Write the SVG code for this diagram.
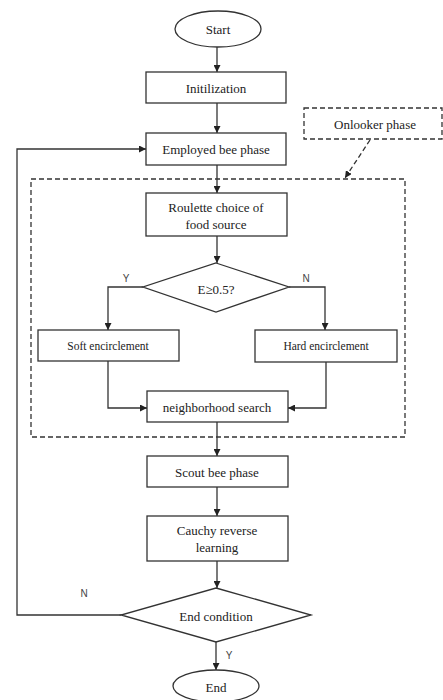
<svg xmlns="http://www.w3.org/2000/svg" width="443" height="700" viewBox="0 0 443 700">
<defs>
<marker id="ah" viewBox="0 0 10 10" refX="10" refY="5" markerWidth="7" markerHeight="7" markerUnits="userSpaceOnUse" orient="auto">
<path d="M0,0 L10,5 L0,10 z" fill="#222"/>
</marker>
</defs>
<style>
.n{fill:#fff;stroke:#333;stroke-width:1.3}
.t{font-family:"Liberation Serif",serif;font-size:13px;fill:#222;text-anchor:middle;dominant-baseline:central}
.ts{font-family:"Liberation Serif",serif;font-size:11.5px;fill:#222;text-anchor:middle;dominant-baseline:central}
.l{font-family:"Liberation Sans",sans-serif;font-size:10px;fill:#444;text-anchor:middle;dominant-baseline:central}
.c{fill:none;stroke:#333;stroke-width:1.3}
.d{fill:none;stroke:#333;stroke-width:1.3;stroke-dasharray:5,3}
</style>
<rect width="443" height="700" fill="#fff"/>
<g id="connectors">
<path class="c" d="M217,47 V72" marker-end="url(#ah)"/>
<path class="c" d="M217,103 V133" marker-end="url(#ah)"/>
<path class="c" d="M217,165 V193" marker-end="url(#ah)"/>
<path class="c" d="M217,236 V263" marker-end="url(#ah)"/>
<path class="c" d="M143,287 H108 V330" marker-end="url(#ah)"/>
<path class="c" d="M289,287 H325 V330" marker-end="url(#ah)"/>
<path class="c" d="M108,361 V408 H147" marker-end="url(#ah)"/>
<path class="c" d="M326,362 V408 H288" marker-end="url(#ah)"/>
<path class="c" d="M217,422 V456" marker-end="url(#ah)"/>
<path class="c" d="M217,487 V516" marker-end="url(#ah)"/>
<path class="c" d="M217,561 V588" marker-end="url(#ah)"/>
<path class="c" d="M121,615 H17 V149 H146" marker-end="url(#ah)"/>
<path class="c" d="M216,642 V670" marker-end="url(#ah)"/>
<path class="d" d="M370,140 L345,178" marker-end="url(#ah)"/>
<text class="l" x="126" y="278">Y</text>
<text class="l" x="306" y="278">N</text>
<text class="l" x="84" y="593">N</text>
<text class="l" x="229" y="655">Y</text>
</g>
<g id="onlooker_region"><rect class="d" x="31" y="179" width="374" height="258"/></g>
<g id="onlooker_label"><rect class="d" x="304" y="108" width="138" height="31"/><text class="t" x="375" y="124">Onlooker phase</text></g>
<g id="start"><ellipse class="n" cx="218" cy="29" rx="43" ry="18"/><text class="t" x="218" y="29">Start</text></g>
<g id="init"><rect class="n" x="146" y="72" width="140" height="31"/><text class="t" x="216" y="88">Initilization</text></g>
<g id="employed"><rect class="n" x="146" y="133" width="140" height="32"/><text class="t" x="216" y="149">Employed bee phase</text></g>
<g id="roulette"><rect class="n" x="146" y="193" width="141" height="43"/><text class="t" x="216" y="207">Roulette choice of</text><text class="t" x="216" y="224">food source</text></g>
<g id="decision1"><polygon class="n" points="216,263 289,287 216,312 143,287"/><text class="t" x="216" y="289">E≥0.5?</text></g>
<g id="soft"><rect class="n" x="38" y="330" width="141" height="31"/><text class="ts" x="108" y="346">Soft encirclement</text></g>
<g id="hard"><rect class="n" x="255" y="330" width="142" height="32"/><text class="ts" x="326" y="346">Hard encirclement</text></g>
<g id="neighborhood"><rect class="n" x="147" y="391" width="141" height="31"/><text class="t" x="217" y="407">neighborhood search</text></g>
<g id="scout"><rect class="n" x="147" y="456" width="141" height="31"/><text class="t" x="217" y="472">Scout bee phase</text></g>
<g id="cauchy"><rect class="n" x="147" y="516" width="141" height="45"/><text class="t" x="217" y="530">Cauchy reverse</text><text class="t" x="217" y="547">learning</text></g>
<g id="endcond"><polygon class="n" points="216,588 311,615 216,642 121,615"/><text class="t" x="216" y="616">End condition</text></g>
<g id="end"><ellipse class="n" cx="216" cy="686" rx="43" ry="16"/><text class="t" x="216" y="687">End</text></g>
</svg>
